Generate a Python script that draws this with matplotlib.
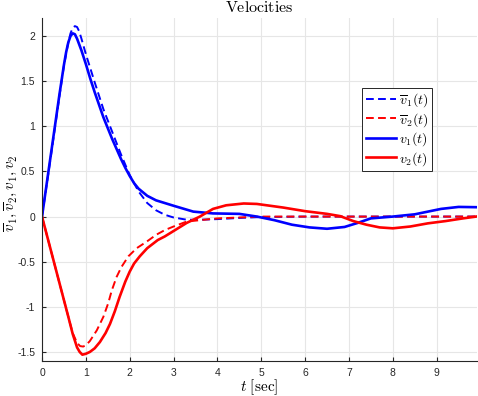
import matplotlib
matplotlib.use("Agg")
import matplotlib.pyplot as plt

plt.rcParams['mathtext.fontset'] = 'cm'
plt.rcParams['font.family'] = ['Liberation Sans', 'DejaVu Sans']

# values
t_v1 = [0, 0.1, 0.2, 0.3, 0.4, 0.5, 0.55, 0.6, 0.65, 0.7, 0.75, 0.8, 0.9, 1.0, 1.1,
        1.2, 1.4, 1.6, 1.8, 1.9, 2.0, 2.1, 2.2, 2.3, 2.4, 2.6, 2.8, 3.0, 3.45, 3.9,
        4.5, 4.9, 5.3, 5.7, 6.1, 6.5, 6.9, 7.2, 7.5, 8.0, 8.5, 9.1, 9.5, 9.9]
v1 = [0, 0.34, 0.68, 1.02, 1.36, 1.68, 1.82, 1.93, 2.0, 2.03, 2.02, 1.97, 1.84, 1.69, 1.53,
      1.38, 1.1, 0.86, 0.64, 0.54, 0.45, 0.37, 0.31, 0.27, 0.23, 0.18, 0.15, 0.12, 0.055, 0.035,
      0.03, 0.0, -0.04, -0.09, -0.12, -0.135, -0.115, -0.07, -0.02, 0.0, 0.025, 0.085, 0.107, 0.104]

t_v1bar = [0, 0.1, 0.2, 0.3, 0.4, 0.5, 0.6, 0.65, 0.7, 0.75, 0.8, 0.85, 0.9, 1.0, 1.2,
           1.4, 1.6, 1.8, 2.0, 2.2, 2.4, 2.6, 2.8, 3.0, 3.3, 3.6, 4.0, 4.5, 5.0, 6.0,
           7.0, 8.0, 9.0, 9.9]
v1bar = [0, 0.33, 0.66, 1.0, 1.34, 1.67, 1.93, 2.03, 2.09, 2.11, 2.1, 2.05, 1.97, 1.8, 1.49,
         1.19, 0.94, 0.69, 0.46, 0.28, 0.15, 0.07, 0.02, -0.01, -0.035, -0.035, -0.028, -0.015, -0.005, 0,
         0, 0, 0, 0]

t_v2 = [0, 0.2, 0.4, 0.6, 0.7, 0.8, 0.86, 0.92, 1.0, 1.09, 1.2, 1.32, 1.45, 1.55, 1.66,
        1.77, 1.9, 2.0, 2.1, 2.23, 2.4, 2.64, 2.8, 3.0, 3.3, 3.6, 3.9, 4.2, 4.6, 4.9,
        5.5, 6.0, 6.5, 6.8, 7.1, 7.4, 7.7, 8.0, 8.4, 8.8, 9.2, 9.6, 9.9]
v2 = [0, -0.37, -0.74, -1.11, -1.3, -1.45, -1.5, -1.53, -1.52, -1.5, -1.46, -1.39, -1.29, -1.19, -1.05,
      -0.89, -0.72, -0.61, -0.52, -0.44, -0.35, -0.26, -0.22, -0.16, -0.07, 0.0, 0.085, 0.125, 0.145, 0.14,
      0.1, 0.06, 0.03, 0.005, -0.05, -0.09, -0.12, -0.13, -0.11, -0.075, -0.05, -0.02, 0.0]

t_v2bar = [0, 0.2, 0.4, 0.6, 0.7, 0.8, 0.87, 0.94, 1.0, 1.09, 1.25, 1.4, 1.51, 1.59, 1.7,
           1.81, 1.97, 2.16, 2.38, 2.61, 2.8, 3.0, 3.3, 3.6, 4.0, 4.5, 5.0, 6.0, 7.0, 8.0,
           9.0, 9.9]
v2bar = [0, -0.37, -0.74, -1.11, -1.29, -1.4, -1.435, -1.44, -1.425, -1.38, -1.26, -1.11, -0.96, -0.82, -0.67,
         -0.56, -0.44, -0.35, -0.28, -0.2, -0.15, -0.11, -0.055, -0.04, -0.02, -0.01, 0, 0, 0, 0,
         0, 0]

fig = plt.figure(figsize=(4.78, 3.96), dpi=100)
ax = fig.add_axes([42/478, 1 - 361/396, 435/478, 343/396])

dash = (4, 2.2)
ax.plot(t_v1bar, v1bar, color='#0000ff', lw=1.4, dashes=dash, label=r'$\overline{v}_1(t)$')
ax.plot(t_v2bar, v2bar, color='#ff0000', lw=1.4, dashes=dash, label=r'$\overline{v}_2(t)$')
ax.plot(t_v1, v1, color='#0000ff', lw=1.9, label=r'$v_1(t)$')
ax.plot(t_v2, v2, color='#ff0000', lw=1.9, label=r'$v_2(t)$')

ax.set_xlim(0, 9.92)
ax.set_ylim(-1.6, 2.2)
ax.set_xticks(range(0, 10))
ax.set_yticks([-1.5, -1, -0.5, 0, 0.5, 1, 1.5, 2])
ax.set_yticklabels(['-1.5', '-1', '-0.5', '0', '0.5', '1', '1.5', '2'])
ax.grid(True, color='#e6e6e6', linewidth=0.8)
ax.set_axisbelow(True)
ax.spines['top'].set_visible(False)
ax.spines['right'].set_visible(False)
for s in ('left', 'bottom'):
    ax.spines[s].set_color('#262626')
    ax.spines[s].set_linewidth(0.8)
ax.tick_params(direction='in', length=3, width=0.8, colors='#262626',
               labelsize=7.5, pad=5)

ax.set_title(r'$\mathrm{Velocities}$', fontsize=11.5, pad=4)
ax.set_xlabel(r'$t\ \mathrm{[sec]}$', fontsize=11)
ax.set_ylabel(r'$\overline{v}_1, \overline{v}_2, v_1, v_2$', fontsize=11)
ax.xaxis.set_label_coords(0.5, -0.048)
ax.yaxis.set_label_coords(-0.052, 0.49)

leg = ax.legend(loc='upper left', bbox_to_anchor=(0.736, 0.796), fontsize=10,
                fancybox=False, framealpha=1, edgecolor='#262626',
                handlelength=2.2, handletextpad=0.2, labelspacing=0.12,
                borderpad=0.25, borderaxespad=0)
leg.get_frame().set_linewidth(0.7)

fig.savefig('out.png', dpi=100)
